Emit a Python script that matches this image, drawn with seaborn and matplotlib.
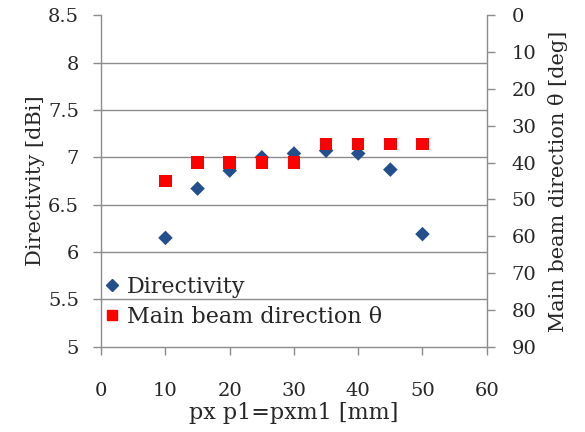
import seaborn as sns
import matplotlib.pyplot as plt
import pandas as pd
from matplotlib.lines import Line2D

px = [10, 15, 20, 25, 30, 35, 40, 45, 50]
directivity = [6.15, 6.67, 6.86, 7.0, 7.04, 7.07, 7.04, 6.87, 6.19]
beam_theta = [45, 40, 40, 40, 40, 35, 35, 35, 35]

df = pd.DataFrame({"px": px, "directivity": directivity, "theta": beam_theta})

sns.set_style("white")
plt.rcParams["font.family"] = ["DejaVu Serif"]

fig = plt.figure(figsize=(5.85, 4.32), dpi=100)
ax = fig.add_axes([0.173, 0.197, 0.659, 0.768])
ax2 = ax.twinx()

navy = "#234F8C"
red = "#FF0000"
grey = "#8C8C8C"

sns.scatterplot(data=df, x="px", y="directivity", ax=ax, marker="D", s=55,
                color=navy, edgecolor="none", zorder=3, legend=False)
sns.scatterplot(data=df, x="px", y="theta", ax=ax2, marker="s", s=80,
                color=red, edgecolor="none", zorder=3, legend=False)

ax.set_xlim(0, 60)
ax.set_ylim(5, 8.5)
ax.set_xticks(range(0, 61, 10))
ax.set_yticks([5, 5.5, 6, 6.5, 7, 7.5, 8, 8.5])
ax.set_yticklabels(["5", "5.5", "6", "6.5", "7", "7.5", "8", "8.5"])
ax2.set_ylim(90, 0)
ax2.set_yticks(range(0, 91, 10))

for y in [5.5, 6, 6.5, 7, 7.5, 8]:
    ax.axhline(y, color=grey, lw=1, zorder=0)

for a in (ax, ax2):
    for s in a.spines.values():
        s.set_visible(False)
ax.spines["left"].set_visible(True)
ax.spines["bottom"].set_visible(True)
ax2.spines["right"].set_visible(True)
for s in (ax.spines["left"], ax.spines["bottom"], ax2.spines["right"]):
    s.set_color(grey)
    s.set_linewidth(1)

ax.tick_params(axis="y", direction="out", length=6, width=1, color=grey,
               labelsize=14, pad=10, left=True)
ax.tick_params(axis="x", direction="out", length=6, width=1, color=grey,
               labelsize=14, pad=19, bottom=True)
ax2.tick_params(axis="y", direction="out", length=6, width=1, color=grey,
                labelsize=14, pad=12, right=True)

ax.set_xlabel("px p1=pxm1 [mm]", fontsize=16, labelpad=2)
ax.set_ylabel("Directivity [dBi]", fontsize=15, labelpad=2)
ax2.set_ylabel("Main beam direction θ [deg]", fontsize=15, labelpad=8)

handles = [
    Line2D([], [], marker="D", ls="", color=navy, markersize=6),
    Line2D([], [], marker="s", ls="", color=red, markersize=7),
]
ax.legend(handles, ["Directivity", "Main beam direction θ"], loc="center left",
          bbox_to_anchor=(0.0, 0.135), frameon=False, fontsize=16,
          borderaxespad=0, borderpad=0, handletextpad=0.15,
          handlelength=1.0, labelspacing=0.35)

fig.savefig("out.png", dpi=100)
